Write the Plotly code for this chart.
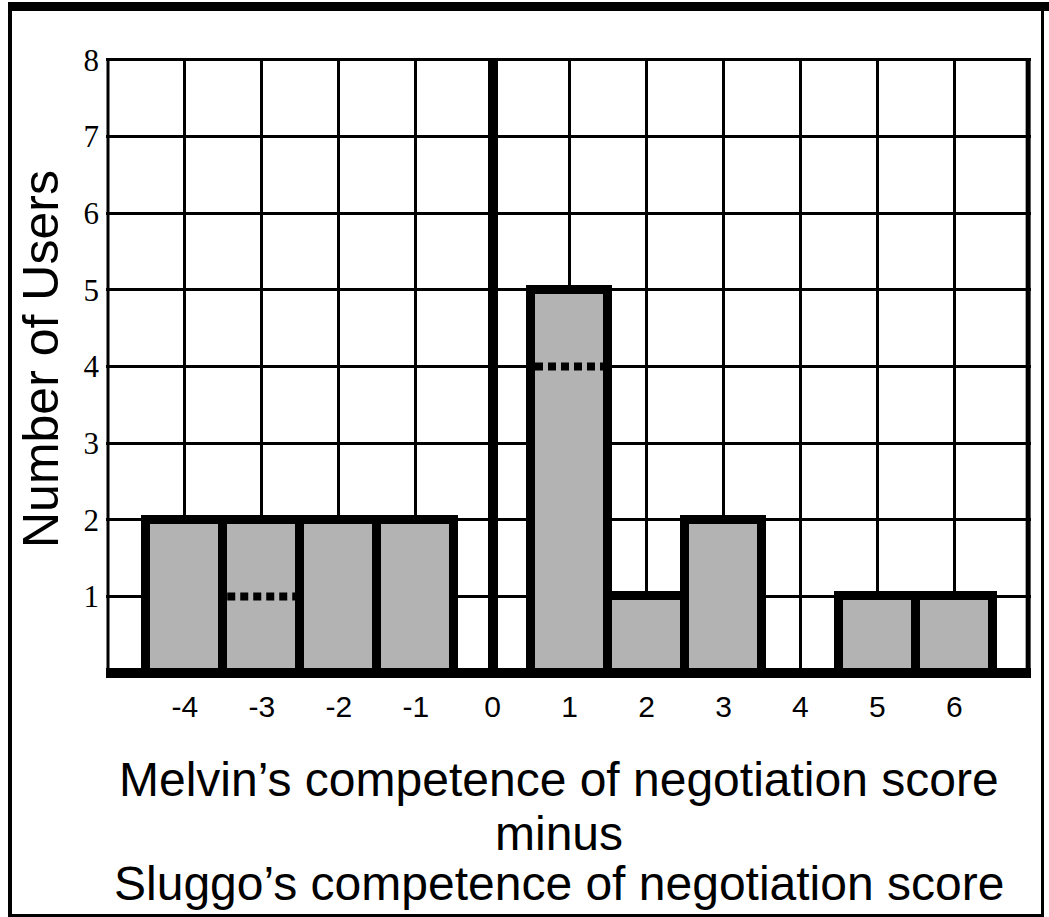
import plotly.graph_objects as go

# ---- data ----
score_diff = [-4, -3, -2, -1, 0, 1, 2, 3, 4, 5, 6]
num_users = [2, 2, 2, 2, 0, 5, 1, 2, 0, 1, 1]
marker_x = [-3, 1]          # bars with a dashed marker line
marker_y = [1, 4]           # level of the dashed marker line
y_ticks = [1, 2, 3, 4, 5, 6, 7, 8]
x_title_lines = ["Melvin\u2019s competence of negotiation score", "minus",
                 "Sluggo\u2019s competence of negotiation score"]
y_title = "Number of Users"

# ---- layout constants (pixels) ----
W, H = 1049, 917
ML, MR, MT, MB = 106, 18, 58, 239
PW, PH = W - ML - MR, H - MT - MB
XR = [-5.026, 6.997]
YR = [-0.065, 8.025]
SANS = "Liberation Sans, Arial, sans-serif"
SERIF = "Liberation Serif, Times New Roman, serif"


def px(xp):
    return (xp - ML) / PW


def py(yp):
    return (H - MB - yp) / PH


fig = go.Figure()
fig.add_trace(go.Bar(
    x=score_diff, y=num_users, width=1.0,
    marker=dict(color="#b3b3b3", line=dict(color="black", width=9)),
    showlegend=False, hoverinfo="x+y",
))

shapes = []
# dashed marker lines inside bars
for cx, cy in zip(marker_x, marker_y):
    shapes.append(dict(type="line", xref="x", yref="y", x0=cx - 0.45, x1=cx + 0.45,
                       y0=cy, y1=cy, line=dict(color="black", width=8, dash="8px,5px"),
                       layer="above"))
# plot border
shapes.append(dict(type="line", xref="x", yref="y", x0=-5, x1=-5, y0=0, y1=8,
                   line=dict(color="black", width=3), layer="below"))
shapes.append(dict(type="line", xref="x", yref="y", x0=6.96, x1=6.96, y0=0, y1=8,
                   line=dict(color="black", width=5), layer="below"))
# thick bottom axis line
shapes.append(dict(type="line", xref="x", yref="y", x0=XR[0], x1=XR[1], y0=0, y1=0,
                   line=dict(color="black", width=10), layer="above"))
# outer frame
shapes.append(dict(type="line", xref="paper", yref="paper", x0=px(8), x1=px(1049),
                   y0=py(6.5), y1=py(6.5), line=dict(color="black", width=9)))
shapes.append(dict(type="line", xref="paper", yref="paper", x0=px(10), x1=px(10),
                   y0=py(6.5), y1=py(917), line=dict(color="black", width=4)))
shapes.append(dict(type="line", xref="paper", yref="paper", x0=px(1042.5), x1=px(1042.5),
                   y0=py(6.5), y1=py(917), line=dict(color="black", width=3)))
shapes.append(dict(type="line", xref="paper", yref="paper", x0=px(8), x1=px(1044),
                   y0=py(915.5), y1=py(915.5), line=dict(color="black", width=3)))

annotations = []
for txt, yc in zip(x_title_lines, [779, 833, 883]):
    annotations.append(dict(text=txt, xref="paper", yref="paper", x=px(559), y=py(yc),
                            xanchor="center", yanchor="middle", showarrow=False,
                            font=dict(family=SANS, size=48, color="black")))
annotations.append(dict(text=y_title, xref="paper", yref="paper", x=px(41), y=py(359),
                        xanchor="center", yanchor="middle", showarrow=False, textangle=-90,
                        font=dict(family=SANS, size=50, color="black")))

fig.update_layout(
    width=W, height=H,
    margin=dict(l=ML, r=MR, t=MT, b=MB, pad=0),
    paper_bgcolor="white", plot_bgcolor="white",
    bargap=0,
    shapes=shapes, annotations=annotations,
    xaxis=dict(range=XR, tickvals=score_diff, ticktext=[str(v) for v in score_diff],
               showgrid=True, gridcolor="black", gridwidth=3,
               zeroline=True, zerolinecolor="black", zerolinewidth=10,
               showline=False, ticks="", ticklabelstandoff=8,
               tickfont=dict(family=SANS, size=30, color="black"), fixedrange=True),
    yaxis=dict(range=YR, tickvals=y_ticks, ticktext=[str(v) for v in y_ticks],
               showgrid=True, gridcolor="black", gridwidth=3,
               zeroline=False, showline=False, ticks="", ticklabelstandoff=6,
               tickfont=dict(family=SERIF, size=31, color="black"), fixedrange=True),
)

fig.write_html(
    "out.html",
    config={"displayModeBar": False},
    post_script="document.body.style.margin='0';document.body.style.overflow='hidden';"
                "document.documentElement.style.overflow='hidden';",
)
